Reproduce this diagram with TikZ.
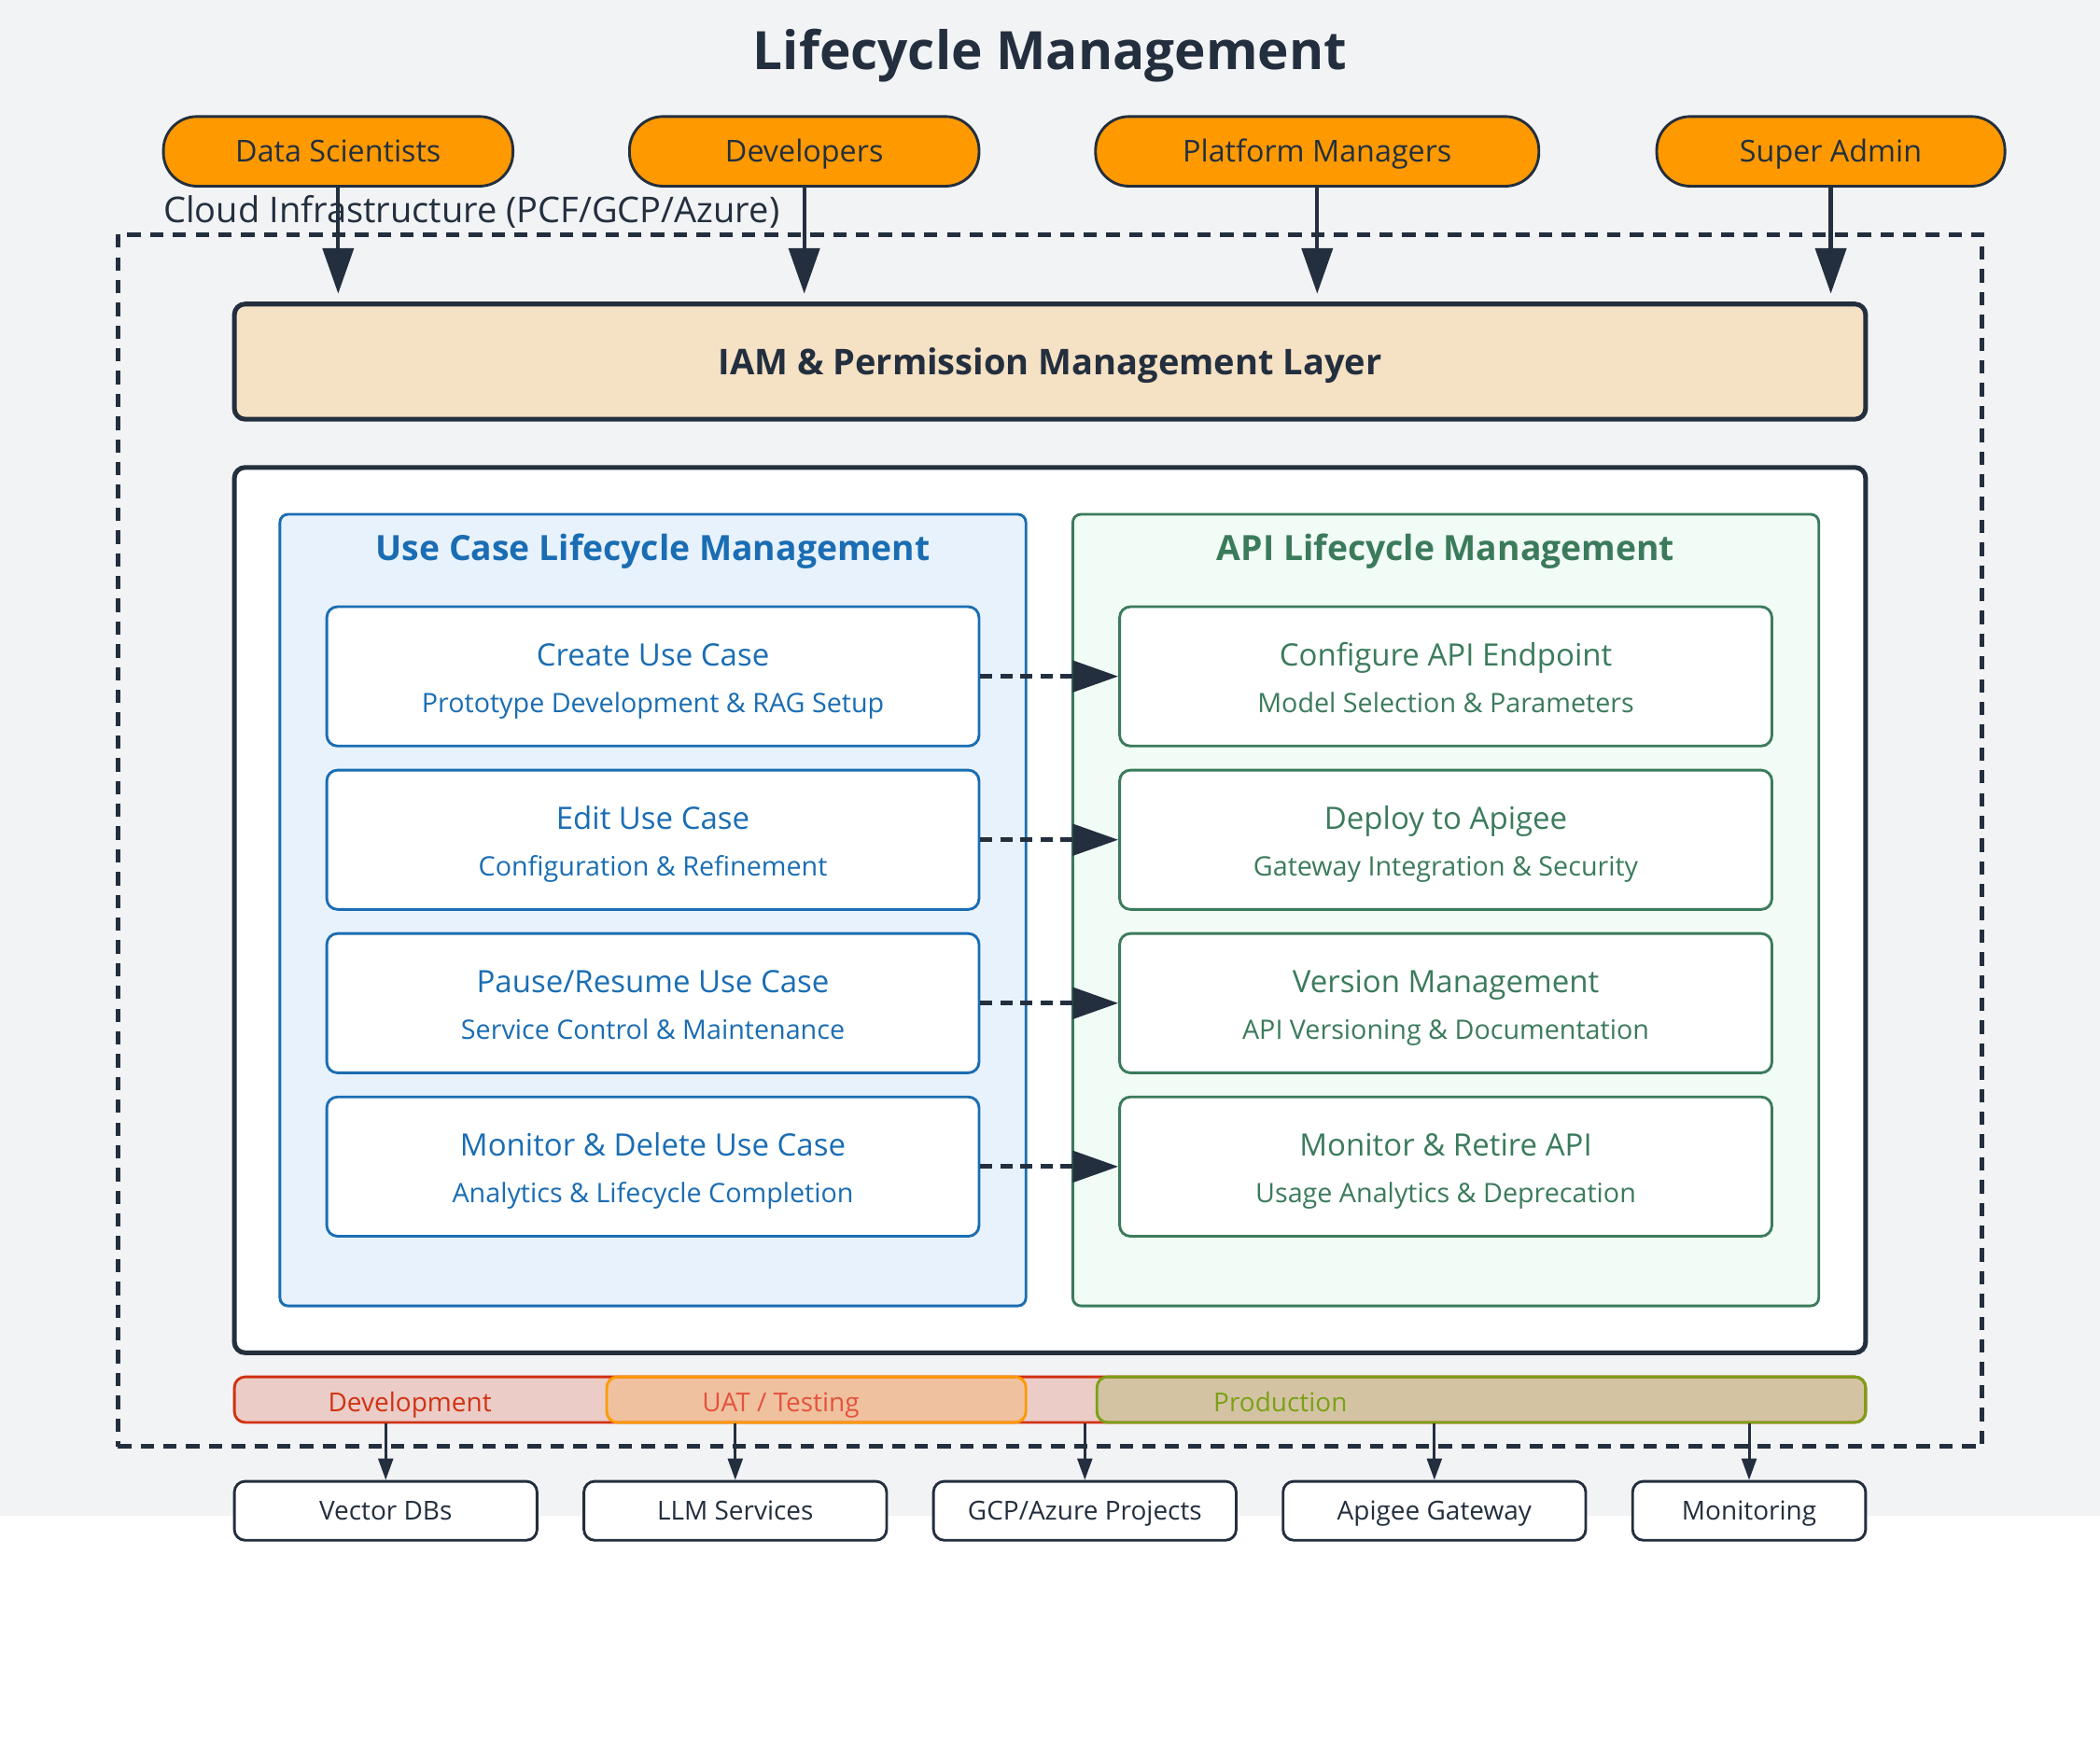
\documentclass[tikz,border=0pt]{standalone}
\usepackage{fontspec}
\setmainfont{Open Sans}
\usetikzlibrary{arrows.meta}

\definecolor{ink}{HTML}{232F3E}
\definecolor{pagegray}{HTML}{F2F3F5}
\definecolor{awsorange}{HTML}{FF9900}
\definecolor{iamfill}{HTML}{F5E1C4}
\definecolor{ucblue}{HTML}{1A6DB3}
\definecolor{ucfill}{HTML}{E8F2FD}
\definecolor{apigreen}{HTML}{3B7B5C}
\definecolor{apifill}{HTML}{F2FCF6}
\definecolor{devred}{HTML}{D13212}
\definecolor{uattext}{HTML}{E4533E}
\definecolor{prodgreen}{HTML}{7AA116}

\tikzset{
  fsize/.code={\pgfmathsetmacro\capht{0.72*#1}%
    \tikzset{font=\fontsize{#1}{#1}\selectfont, text height=\capht pt, text depth=0pt}},
  pill/.style={draw=ink, line width=2pt, fill=awsorange, rounded corners=25pt,
    minimum height=52pt, text=ink, fsize=22.5},
  layer/.style={draw=ink, line width=3.5pt, rounded corners=8pt, minimum width=1218pt},
  panel/.style={line width=2pt, rounded corners=6pt, minimum width=557pt, minimum height=591pt},
  stepbox/.style={draw=#1, text=#1, fill=white, line width=2pt, rounded corners=8pt,
    minimum width=487pt, minimum height=104pt},
  boxtitle/.style={text=#1, fsize=23},
  boxsub/.style={text=#1, fsize=20},
  band/.style={draw=#1, fill=#1, fill opacity=0.2, draw opacity=1, line width=2pt,
    rounded corners=8pt, minimum height=34pt},
  bandlabel/.style={text=#1, fsize=19.5},
  infra/.style={draw=ink, fill=white, line width=2pt, rounded corners=8pt, minimum height=44pt,
    text=ink, fsize=19.5},
  bigarrow/.style={draw=ink, line width=3pt, -{Triangle[length=34pt,width=23pt]}, shorten >=6pt},
  flowarrow/.style={draw=ink, line width=3.5pt, dash pattern=on 9pt off 6pt,
    -{Triangle[length=34pt,width=23pt]}},
  smallarrow/.style={draw=ink, line width=2pt, -{Triangle[length=16pt,width=11pt]}}
}

\begin{document}
\begin{tikzpicture}[x=1pt,y=-1pt]
  \useasboundingbox (0,0) rectangle (1568,1306.7);
  \fill[pagegray] (0,0) rectangle (1568,1132);

  % title
  \node[text=ink, fsize=39.5, font=\fontsize{39.5}{46}\selectfont\bfseries] (title) at (784,38) {Lifecycle Management};

  % cloud boundary
  \node[draw=ink, line width=3.5pt, dash pattern=on 10pt off 7pt, minimum width=1392pt,
    minimum height=905pt] (cloud) at (784,627.5) {};
  \node[anchor=west, inner sep=0pt, text=ink, fsize=26.5] (cloudlabel)
    at (122,157) {Cloud Infrastructure (PCF/GCP/Azure)};

  % user groups
  \node[pill, minimum width=261pt] (ds) at (252.5,113) {Data Scientists};
  \node[pill, minimum width=261pt] (dev) at (600.5,113) {Developers};
  \node[pill, minimum width=331pt] (pm) at (983.5,113) {Platform Managers};
  \node[pill, minimum width=260pt] (sa) at (1367,113) {Super Admin};

  % iam layer
  \node[layer, fill=iamfill, minimum height=86pt, text=ink, fsize=26.5,
    font=\fontsize{26.5}{31}\selectfont\bfseries] (iam) at (784,270) {IAM \& Permission Management Layer};

  \draw[bigarrow] (ds) -- (ds |- iam.north);
  \draw[bigarrow] (dev) -- (dev |- iam.north);
  \draw[bigarrow] (pm) -- (pm |- iam.north);
  \draw[bigarrow] (sa) -- (sa |- iam.north);

  % lifecycle container
  \node[layer, fill=white, minimum height=661pt] (core) at (784,679.5) {};
  \node[panel, draw=ucblue, fill=ucfill] (ucpanel) at (487.5,679.5) {};
  \node[panel, draw=apigreen, fill=apifill] (apipanel) at (1079.5,679.5) {};
  \node[text=ucblue, fsize=26, font=\fontsize{26}{30}\selectfont\bfseries] (uchead) at (487.5,409)
    {Use Case Lifecycle Management};
  \node[text=apigreen, fsize=26, font=\fontsize{26}{30}\selectfont\bfseries] (apihead) at (1079.5,409)
    {API Lifecycle Management};

  % use case steps
  \node[stepbox=ucblue] (uc1) at (487.5,505) {};
  \node[boxtitle=ucblue] at ([yshift=16pt]uc1.center) {Create Use Case};
  \node[boxsub=ucblue] at ([yshift=-20pt]uc1.center) {Prototype Development \& RAG Setup};
  \node[stepbox=ucblue] (uc2) at (487.5,627) {};
  \node[boxtitle=ucblue] at ([yshift=16pt]uc2.center) {Edit Use Case};
  \node[boxsub=ucblue] at ([yshift=-20pt]uc2.center) {Configuration \& Refinement};
  \node[stepbox=ucblue] (uc3) at (487.5,749) {};
  \node[boxtitle=ucblue] at ([yshift=16pt]uc3.center) {Pause/Resume Use Case};
  \node[boxsub=ucblue] at ([yshift=-20pt]uc3.center) {Service Control \& Maintenance};
  \node[stepbox=ucblue] (uc4) at (487.5,871) {};
  \node[boxtitle=ucblue] at ([yshift=16pt]uc4.center) {Monitor \& Delete Use Case};
  \node[boxsub=ucblue] at ([yshift=-20pt]uc4.center) {Analytics \& Lifecycle Completion};

  % api steps
  \node[stepbox=apigreen] (api1) at (1079.5,505) {};
  \node[boxtitle=apigreen] at ([yshift=16pt]api1.center) {Configure API Endpoint};
  \node[boxsub=apigreen] at ([yshift=-20pt]api1.center) {Model Selection \& Parameters};
  \node[stepbox=apigreen] (api2) at (1079.5,627) {};
  \node[boxtitle=apigreen] at ([yshift=16pt]api2.center) {Deploy to Apigee};
  \node[boxsub=apigreen] at ([yshift=-20pt]api2.center) {Gateway Integration \& Security};
  \node[stepbox=apigreen] (api3) at (1079.5,749) {};
  \node[boxtitle=apigreen] at ([yshift=16pt]api3.center) {Version Management};
  \node[boxsub=apigreen] at ([yshift=-20pt]api3.center) {API Versioning \& Documentation};
  \node[stepbox=apigreen] (api4) at (1079.5,871) {};
  \node[boxtitle=apigreen] at ([yshift=16pt]api4.center) {Monitor \& Retire API};
  \node[boxsub=apigreen] at ([yshift=-20pt]api4.center) {Usage Analytics \& Deprecation};

  \draw[flowarrow] (uc1) -- (api1);
  \draw[flowarrow] (uc2) -- (api2);
  \draw[flowarrow] (uc3) -- (api3);
  \draw[flowarrow] (uc4) -- (api4);

  % environments
  \node[band=devred, minimum width=1218pt] (devband) at (784,1045) {};
  \node[band=awsorange, minimum width=313pt] (uatband) at (609.5,1045) {};
  \node[band=prodgreen, minimum width=574pt] (prodband) at (1106,1045) {};
  \node[bandlabel=devred] at (306,1047) {Development};
  \node[bandlabel=uattext] at (583,1047) {UAT / Testing};
  \node[bandlabel=prodgreen] at (956,1047) {Production};

  % infrastructure services
  \node[infra, minimum width=226pt] (vdb) at (288,1128) {Vector DBs};
  \node[infra, minimum width=226pt] (llm) at (549,1128) {LLM Services};
  \node[infra, minimum width=226pt] (gcp) at (810,1128) {GCP/Azure Projects};
  \node[infra, minimum width=226pt] (apg) at (1071,1128) {Apigee Gateway};
  \node[infra, minimum width=174pt] (mon) at (1306,1128) {Monitoring};

  \draw[smallarrow] (vdb.north |- devband.south) -- (vdb.north);
  \draw[smallarrow] (llm.north |- uatband.south) -- (llm.north);
  \draw[smallarrow] (gcp.north |- devband.south) -- (gcp.north);
  \draw[smallarrow] (apg.north |- prodband.south) -- (apg.north);
  \draw[smallarrow] (mon.north |- prodband.south) -- (mon.north);
\end{tikzpicture}
\end{document}
